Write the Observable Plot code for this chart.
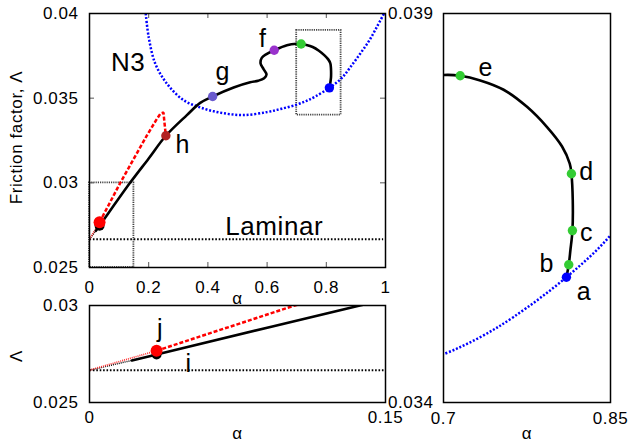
<!DOCTYPE html>
<html><head><meta charset="utf-8">
<script src="https://cdn.jsdelivr.net/npm/d3@7"></script>
<script src="https://cdn.jsdelivr.net/npm/@observablehq/plot@0.6"></script>
<style>
body{margin:0;background:#fff;}
#chart{position:relative;width:632px;height:443px;overflow:hidden;background:#fff;}
#chart svg{position:absolute;left:0;top:0;}
</style></head><body><div id="chart"></div>
<script>
// ---------- data ----------
const laminarLambda = 0.026667;
const laminarAlphaRange = [0, 0.992];

const mainXTicks = [0, 0.2, 0.4, 0.6, 0.8, 1];
const mainYTicks = [0.025, 0.03, 0.035, 0.04];
const bottomXDomain = [0, 0.15];
const bottomYDomain = [0.025, 0.03];
const rightXDomain = [0.7, 0.85];
const rightYDomain = [0.034, 0.039];

// black solution branch (alpha, Lambda)
const curveAlpha = [0.0215, 0.034, 0.137, 0.2, 0.258, 0.329, 0.374, 0.416, 0.487, 0.543, 0.57, 0.59, 0.598, 0.588, 0.578, 0.582, 0.598, 0.624, 0.667, 0.7, 0.715, 0.733, 0.754, 0.775, 0.793, 0.8065, 0.8134, 0.8149, 0.8161, 0.8158, 0.814, 0.8125, 0.8104];
const curveLambda = [0.02717, 0.02747, 0.0300, 0.03144, 0.03278, 0.0340, 0.03472, 0.0351, 0.03563, 0.03594, 0.03603, 0.03618, 0.0364, 0.03672, 0.03705, 0.03738, 0.0376, 0.03783, 0.03813, 0.03821, 0.0382, 0.03814, 0.03802, 0.0378, 0.03754, 0.03729, 0.03707, 0.03694, 0.0366, 0.03621, 0.03596, 0.03577, 0.03561];

// red dashed branch
const redAlpha = [0.034, 0.104, 0.149, 0.194, 0.225, 0.24, 0.25, 0.253, 0.258];
const redLambda = [0.02767, 0.0300, 0.0314, 0.0328, 0.0337, 0.0341, 0.03415, 0.0336, 0.03278];

// thin dotted leads from the laminar point
const redLeadAlpha = [0, 0.034];
const redLeadLambda = [0.026667, 0.02767];
const blackLeadAlpha = [0, 0.0215];
const blackLeadLambda = [0.026667, 0.02717];

// N3 neutral curve (blue dotted)
const n3Alpha = [0.19, 0.2, 0.222, 0.261, 0.318, 0.385, 0.45, 0.52, 0.6, 0.65, 0.7, 0.733, 0.763, 0.8104, 0.85, 0.88, 0.915, 0.945, 0.971, 0.995];
const n3Lambda = [0.0400, 0.0386, 0.03705, 0.03587, 0.03488, 0.03439, 0.03412, 0.0340, 0.03418, 0.03438, 0.03462, 0.03484, 0.0351, 0.03561, 0.03615, 0.0368, 0.03764, 0.0384, 0.03921, 0.0400];

// marked points
const pointName = ["i", "j", "a", "b", "c", "d", "e", "f", "g", "h"];
const pointAlpha = [0.034, 0.034, 0.8104, 0.8125, 0.8158, 0.8149, 0.715, 0.624, 0.416, 0.258];
const pointLambda = [0.02747, 0.02767, 0.03561, 0.03577, 0.03621, 0.03694, 0.0382, 0.03783, 0.0351, 0.03278];

const mainPointNames = ["i", "j", "a", "e", "f", "g", "h"];
const bottomPointNames = ["i", "j"];
const rightPointNames = ["a", "b", "c", "d", "e"];

const annotationText = ["N3", "Laminar"];
const annotationAlpha = [0.1307, 0.624];
const annotationLambda = [0.03708, 0.02739];

// ---------- styles ----------
const pointColor = {i: "#000000", j: "#ff0000", a: "#0000ff", b: "#33cc33", c: "#33cc33", d: "#33cc33", e: "#33cc33", f: "#9932cc", g: "#6a5acd", h: "#b22222"};
const pointRadius = {i: 5, j: 6};
const W = 632, H = 443;
const font = "'Liberation Sans', Arial, Helvetica, sans-serif";

const rows = (xs, ys) => xs.map((x, k) => ({alpha: x, lambda: ys[k]}));
const curve = rows(curveAlpha, curveLambda);
const red = rows(redAlpha, redLambda);
const redLead = rows(redLeadAlpha, redLeadLambda);
const blackLead = rows(blackLeadAlpha, blackLeadLambda);
const n3 = rows(n3Alpha, n3Lambda);
const points = pointName.map((n, k) => ({name: n, alpha: pointAlpha[k], lambda: pointLambda[k]}));
const annotations = annotationText.map((t, k) => ({text: t, alpha: annotationAlpha[k], lambda: annotationLambda[k]}));
const laminar = laminarAlphaRange.map(a => ({alpha: a, lambda: laminarLambda}));
const zoomBoxes = [
  {x1: bottomXDomain[0], x2: bottomXDomain[1], y1: bottomYDomain[0], y2: bottomYDomain[1]},
  {x1: rightXDomain[0], x2: rightXDomain[1], y1: rightYDomain[0], y2: rightYDomain[1]}
];
const fmt = d => String(d);
const butt = {strokeLinecap: "butt", strokeLinejoin: "miter"};

function pointMarks(names) {
  const sel = names.map(n => points.find(p => p.name === n));
  return sel.map(p => Plot.dot([p], {x: "alpha", y: "lambda", r: pointRadius[p.name] || 4.7, fill: pointColor[p.name], stroke: "none"}));
}
function labelMarks(offsets) {
  return Object.entries(offsets).map(([n, [dx, dy]]) => {
    const p = points.find(q => q.name === n);
    return Plot.text([p], {x: "alpha", y: "lambda", text: "name", dx, dy, fontSize: 25, fill: "#000", textAnchor: "middle", lineAnchor: "middle"});
  });
}
function curveMarks() {
  return [
    Plot.line(n3, {x: "alpha", y: "lambda", stroke: "#0000ff", strokeWidth: 2.5, strokeDasharray: "2,1.8", curve: "catmull-rom", clip: true, ...butt}),
    Plot.line(blackLead, {x: "alpha", y: "lambda", stroke: "#000", strokeWidth: 1.5, strokeDasharray: "1,1", clip: true, ...butt}),
    Plot.line(redLead, {x: "alpha", y: "lambda", stroke: "#ff3030", strokeWidth: 1.7, strokeDasharray: "1,1", clip: true, ...butt}),
    Plot.line(red, {x: "alpha", y: "lambda", stroke: "#ff0000", strokeWidth: 2.5, strokeDasharray: "4,2", clip: true, ...butt}),
    Plot.line(curve, {x: "alpha", y: "lambda", stroke: "#000", strokeWidth: 2.6, curve: "catmull-rom", clip: true})
  ];
}
const common = {width: W, height: H, style: {background: "transparent", fontFamily: font, fontSize: "17px", letterSpacing: "0.6px", overflow: "visible", color: "#000"}};
const xTitle = () => Plot.text(["α"], {frameAnchor: "bottom", text: d => d, dy: 31, fontSize: 17, textAnchor: "middle", lineAnchor: "middle"});

// ---------- main panel ----------
const main = Plot.plot({
  ...common,
  marginLeft: 89, marginRight: W - 385, marginTop: 13, marginBottom: H - 267,
  x: {domain: [0, 1]},
  y: {domain: [0.025, 0.04]},
  marks: [
    Plot.rect(zoomBoxes, {x1: "x1", x2: "x2", y1: "y1", y2: "y2", fill: "none", stroke: "#444", strokeWidth: 1.8, strokeDasharray: "1.2,1"}),
    Plot.line(laminar, {x: "alpha", y: "lambda", stroke: "#000", strokeWidth: 2, strokeDasharray: "1.6,1.8", ...butt}),
    ...curveMarks(),
    ...pointMarks(mainPointNames),
    ...labelMarks({f: [-11.5, -11.5], g: [10, -24], h: [17, 9.5]}),
    Plot.text(annotations, {x: "alpha", y: "lambda", text: "text", fontSize: 26, fill: "#000"}),
    Plot.tickX(mainXTicks.slice(1, -1), {x: d => d, insetTop: 249, stroke: "#555"}),
    Plot.tickX(mainXTicks.slice(1, -1), {x: d => d, insetBottom: 249, stroke: "#555"}),
    Plot.tickY(mainYTicks.slice(1, -1), {y: d => d, insetRight: 291, stroke: "#555"}),
    Plot.tickY(mainYTicks.slice(1, -1), {y: d => d, insetLeft: 291, stroke: "#555"}),
    Plot.axisX(mainXTicks, {anchor: "bottom", tickSize: 0, tickPadding: 13, tickFormat: fmt, label: null}),
    Plot.axisY(mainYTicks, {anchor: "left", tickSize: 0, tickPadding: 11, tickFormat: fmt, label: null}),
    xTitle(),
    Plot.text(["Friction factor, Λ"], {frameAnchor: "left", text: d => d, dx: -73, dy: -3, rotate: -90, fontSize: 17, textAnchor: "middle", lineAnchor: "middle"}),
    Plot.frame({stroke: "#000", strokeWidth: 1.5})
  ]
});

// ---------- bottom panel (zoom near origin) ----------
const bottom = Plot.plot({
  ...common,
  marginLeft: 89, marginRight: W - 385, marginTop: 305, marginBottom: H - 402,
  x: {domain: bottomXDomain},
  y: {domain: bottomYDomain},
  marks: [
    Plot.line(laminar, {x: "alpha", y: "lambda", stroke: "#000", strokeWidth: 2, strokeDasharray: "1.6,1.8", clip: true, ...butt}),
    ...curveMarks(),
    ...pointMarks(bottomPointNames),
    ...labelMarks({j: [3.6, -22], i: [32, 9]}),
    Plot.axisX(bottomXDomain, {anchor: "bottom", tickSize: 0, tickPadding: 8, tickFormat: fmt, label: null}),
    Plot.axisY(bottomYDomain, {anchor: "left", tickSize: 0, tickPadding: 11, tickFormat: fmt, label: null}),
    xTitle(),
    Plot.text(["Λ"], {frameAnchor: "left", text: d => d, dx: -73, dy: 2, rotate: -90, fontSize: 17, textAnchor: "middle", lineAnchor: "middle"}),
    Plot.frame({stroke: "#000", strokeWidth: 1.5})
  ]
});

// ---------- right panel (zoom near turning point) ----------
const right = Plot.plot({
  ...common,
  marginLeft: 443, marginRight: W - 610, marginTop: 13, marginBottom: H - 402,
  x: {domain: rightXDomain},
  y: {domain: rightYDomain},
  marks: [
    ...curveMarks(),
    ...pointMarks(rightPointNames),
    ...labelMarks({e: [25.5, -8], d: [15, -1.3], c: [14, 2], b: [-22, -0.7], a: [17.7, 15]}),
    Plot.axisX(rightXDomain, {anchor: "bottom", tickSize: 0, tickPadding: 9, tickFormat: fmt, label: null}),
    Plot.axisY(rightYDomain, {anchor: "left", tickSize: 0, tickPadding: 10, tickFormat: fmt, label: null}),
    xTitle(),
    Plot.frame({stroke: "#000", strokeWidth: 1.5})
  ]
});

const root = document.getElementById("chart");
root.append(main, bottom, right);
</script></body></html>
